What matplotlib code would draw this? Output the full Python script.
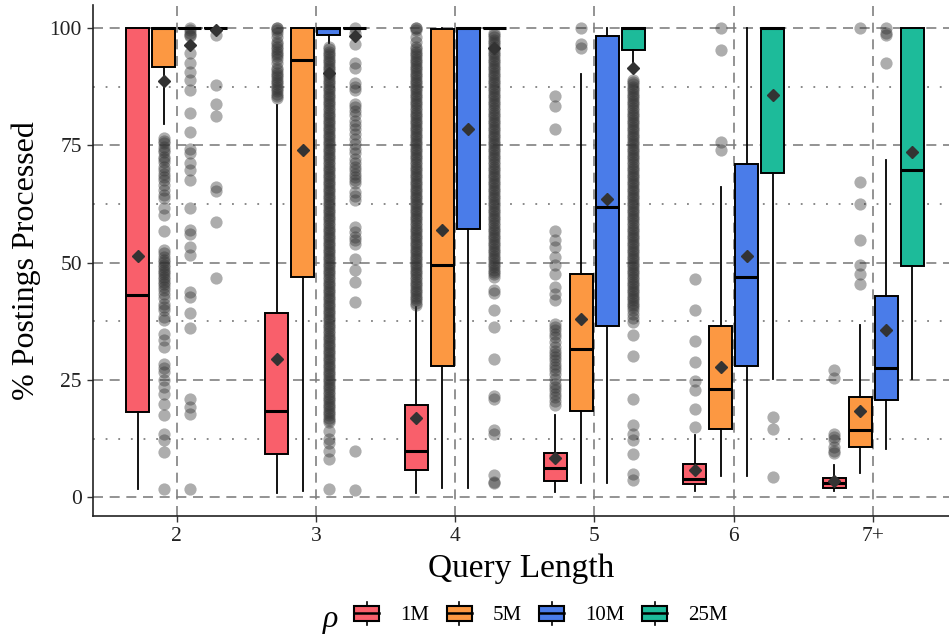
import matplotlib
matplotlib.use("Agg")
import matplotlib.pyplot as plt
from matplotlib.patches import Rectangle
from matplotlib.lines import Line2D
from matplotlib.legend_handler import HandlerBase

plt.rcParams['font.family'] = ['Liberation Serif', 'DejaVu Serif']

query_lengths = ['2', '3', '4', '5', '6', '7+']
rho_labels = ['1M', '5M', '10M', '25M']
rho_colors = ['#F95F6B', '#FC9842', '#4A7CE9', '#1DBB9A']

# per query length: (whisker low, q1, median, q3, whisker high)
box_1m = [(1.7, 18.1, 43.1, 100, 100), (0.9, 9.3, 18.4, 39.3, 83.6),
          (0.9, 5.8, 9.9, 19.8, 40.6), (1.1, 3.6, 6.2, 9.4, 17.5),
          (1.3, 2.9, 4.0, 7.2, 13.2), (1.3, 2.1, 3.0, 4.1, 7.0)]
box_5m = [(79.5, 91.8, 100, 100, 100), (1.3, 47.0, 93.2, 100, 100),
          (2.1, 28.1, 49.6, 99.7, 100), (3.1, 18.5, 31.7, 47.7, 90.3),
          (4.5, 14.6, 23.2, 36.5, 66.2), (5.2, 10.7, 14.4, 21.5, 36.7)]
box_10m = [(100, 100, 100, 100, 100), (96.8, 98.5, 100, 100, 100),
           (2.1, 57.1, 100, 100, 100), (3.1, 36.5, 61.9, 98.2, 100),
           (4.5, 28.1, 47.0, 71.0, 100), (10.4, 20.7, 27.6, 42.9, 71.9)]
box_25m = [(100, 100, 100, 100, 100), (100, 100, 100, 100, 100),
           (100, 100, 100, 100, 100), (92.8, 95.3, 100, 100, 100),
           (25.3, 69.1, 100, 100, 100), (25.3, 49.4, 69.7, 100, 100)]

mean_1m = [51.4, 29.6, 17.0, 8.5, 5.8, 3.6]
mean_5m = [88.7, 74.0, 56.9, 38.1, 27.8, 18.4]
mean_10m = [96.4, 90.5, 78.4, 63.5, 51.4, 35.6]
mean_25m = [99.6, 98.2, 95.7, 91.4, 85.7, 73.5]

# outlying queries
out_1m = [
    [],
    [100, 100, 99.5, 99.0, 98.0, 97.0, 96.5, 96.0, 95.5, 95.0, 94.5, 94.0, 93.5,
     92.5, 91.5, 91.0, 90.5, 90.0, 89.5, 89.0, 88.5, 88.0, 87.5, 87.0, 86.5, 86.0,
     85.5, 85.2],
    [100, 100, 99.5, 98.0, 97.1, 96.0, 95.5, 95.0, 94.5, 94.0, 93.5, 93.0, 92.5,
     92.0, 91.5, 91.0, 90.5, 90.0, 89.5, 89.0, 88.5, 88.0, 87.5, 87.0, 86.5, 86.0,
     85.5, 85.0, 84.5, 84.0, 83.5, 83.0, 82.5, 82.0, 81.5, 81.0, 80.5, 80.0, 79.5,
     79.0, 78.5, 78.0, 77.5, 77.0, 76.5, 76.0, 75.5, 75.0, 74.5, 74.0, 73.5, 73.0,
     72.5, 72.0, 71.5, 71.0, 70.5, 70.0, 69.5, 69.0, 68.5, 68.0, 67.5, 67.0, 66.5,
     66.0, 65.5, 65.0, 64.5, 64.0, 63.5, 63.0, 62.5, 62.0, 61.5, 61.0, 60.5, 60.0,
     59.5, 59.0, 58.5, 58.0, 57.5, 57.0, 56.5, 56.0, 55.5, 55.0, 54.5, 54.0, 53.5,
     53.0, 52.5, 52.0, 51.5, 51.0, 50.5, 50.0, 49.5, 49.0, 48.5, 48.0, 47.5, 47.0,
     46.5, 46.0, 45.5, 45.0, 44.5, 44.0, 43.5, 43.0, 42.5, 42.0, 41.5, 41.0],
    [85.5, 83.4, 78.4, 56.8, 54.8, 53.4, 51.2, 49.5, 47.7, 44.8, 43.4, 42.0, 37.0,
     36.3, 35.6, 34.9, 34.2, 33.1, 32.0, 31.3, 30.6, 29.9, 29.2, 28.5, 27.8, 27.1,
     26.4, 25.3, 24.2, 23.5, 22.8, 22.1, 21.4, 20.5, 19.6],
    [46.6, 39.9, 33.3, 28.8, 24.9, 22.8, 18.9, 15.0],
    [27.1, 25.4, 13.6, 12.9, 12.2, 10.7, 10.0, 9.5],
]
out_5m = [
    [76.6, 76.0, 75.5, 74.7, 74.1, 73.5, 72.6, 72.0, 71.5, 70.4, 69.8, 69.0, 68.3,
     67.6, 66.5, 65.5, 64.5, 63.7, 61.6, 60.1, 56.7, 52.7, 52.0, 51.2, 50.6, 50.2,
     49.6, 49.1, 48.5, 48.0, 47.5, 47.0, 46.5, 46.0, 45.4, 44.8, 44.1, 43.4, 42.5,
     41.3, 40.6, 39.9, 38.5, 37.7, 34.9, 33.5, 32.0, 28.5, 27.6, 26.7, 25.0, 23.5,
     22.1, 20.0, 17.5, 13.6, 12.2, 9.7, 1.7],
    [],
    [],
    [100, 96.7, 95.7],
    [100, 95.3, 75.8, 74.1],
    [100, 67.2, 62.6, 54.9, 49.5, 47.5, 45.4],
]
out_10m = [
    [100, 99.5, 99.0, 98.5, 98.2, 94.6, 92.5, 90.7, 88.9, 86.8, 81.8, 77.9, 74.3,
     73.3, 71.2, 69.7, 67.6, 61.6, 56.9, 56.2, 53.4, 51.6, 43.8, 42.7, 39.2, 36.0,
     21.0, 19.3, 17.8, 1.7],
    [96.0, 95.5, 95.0, 94.5, 94.0, 93.5, 93.0, 92.5, 92.0, 91.5, 91.0, 90.5, 90.0,
     89.5, 89.0, 88.5, 88.0, 87.5, 87.0, 86.5, 86.0, 85.5, 85.0, 84.5, 84.0, 83.5,
     83.0, 82.5, 82.0, 81.5, 81.0, 80.5, 80.0, 79.5, 79.0, 78.5, 78.0, 77.5, 77.0,
     76.5, 76.0, 75.5, 75.0, 74.5, 74.0, 73.5, 73.0, 72.5, 72.0, 71.5, 71.0, 70.5,
     70.0, 69.5, 69.0, 68.5, 68.0, 67.5, 67.0, 66.5, 66.0, 65.5, 65.0, 64.5, 64.0,
     63.5, 63.0, 62.5, 62.0, 61.5, 61.0, 60.5, 60.0, 59.5, 59.0, 58.5, 58.0, 57.5,
     57.0, 56.5, 56.0, 55.5, 55.0, 54.5, 54.0, 53.5, 53.0, 52.5, 52.0, 51.5, 51.0,
     50.5, 50.0, 49.5, 49.0, 48.5, 48.0, 47.5, 47.0, 46.5, 46.0, 45.5, 45.0, 44.5,
     44.0, 43.5, 43.0, 42.5, 42.0, 41.5, 41.0, 40.5, 40.0, 39.5, 39.0, 38.5, 38.0,
     37.5, 37.0, 36.5, 36.0, 35.5, 35.0, 34.5, 34.0, 33.5, 33.0, 32.5, 32.0, 31.5,
     31.0, 30.5, 30.0, 29.5, 29.0, 28.5, 28.0, 27.5, 27.0, 26.5, 26.0, 25.5, 25.0,
     24.5, 24.0, 23.5, 23.0, 22.5, 22.0, 21.5, 21.0, 20.5, 20.0, 19.5, 19.0, 18.5,
     18.0, 17.5, 17.0, 16.5, 16.0, 14.2, 12.5, 11.5, 10.0, 8.2, 1.7],
    [],
    [],
    [],
    [100, 99.0, 98.5, 92.6],
]
out_25m = [
    [98.5, 87.8, 83.9, 81.2, 66.2, 65.3, 58.7, 46.8],
    [100, 99.0, 96.7, 92.5, 91.4, 88.2, 87.5, 86.8, 83.9, 83.2, 82.3, 81.4, 80.3,
     79.3, 78.4, 77.5, 76.4, 75.4, 74.3, 73.3, 72.2, 71.2, 70.4, 69.7, 69.0, 68.3,
     67.6, 66.9, 65.1, 64.2, 63.3, 57.6, 56.5, 55.5, 54.8, 54.1, 50.9, 48.4, 45.9,
     41.6, 10.0, 1.5],
    [99.0, 98.5, 98.0, 97.5, 97.0, 96.5, 96.0, 95.5, 95.0, 94.5, 94.0, 93.5, 93.0,
     92.5, 92.0, 91.5, 91.0, 90.5, 90.0, 89.5, 89.0, 88.5, 88.0, 87.5, 87.0, 86.5,
     86.0, 85.5, 85.0, 84.5, 84.0, 83.5, 83.0, 82.5, 82.0, 81.5, 81.0, 80.5, 80.0,
     79.5, 79.0, 78.5, 78.0, 77.5, 77.0, 76.5, 76.0, 75.5, 75.0, 74.5, 74.0, 73.5,
     73.0, 72.5, 72.0, 71.5, 71.0, 70.5, 70.0, 69.5, 69.0, 68.5, 68.0, 67.5, 67.0,
     66.5, 66.0, 65.5, 65.0, 64.5, 64.0, 63.5, 63.0, 62.5, 62.0, 61.5, 61.0, 60.5,
     60.0, 59.5, 59.0, 58.5, 58.0, 57.5, 57.0, 56.5, 56.0, 55.5, 55.0, 54.5, 54.0,
     53.5, 53.0, 52.5, 52.0, 51.5, 51.0, 50.5, 50.0, 49.5, 49.0, 48.5, 48.0, 47.5,
     47.0, 44.1, 43.5, 39.9, 36.3, 29.4, 21.7, 21.0, 14.3, 13.6, 4.7, 3.3, 3.0],
    [89.0, 88.5, 88.0, 87.5, 87.0, 86.5, 86.0, 85.5, 85.0, 84.5, 84.0, 83.5, 83.0,
     82.5, 82.0, 81.5, 81.0, 80.5, 80.0, 79.5, 79.0, 78.5, 78.0, 77.5, 77.0, 76.5,
     76.0, 75.5, 75.0, 74.5, 74.0, 73.5, 73.0, 72.5, 72.0, 71.5, 71.0, 70.5, 70.0,
     69.5, 69.0, 68.5, 68.0, 67.5, 67.0, 66.5, 66.0, 65.5, 65.0, 64.5, 64.0, 63.5,
     63.0, 62.5, 62.0, 61.5, 61.0, 60.5, 60.0, 59.5, 59.0, 58.5, 58.0, 57.5, 57.0,
     56.5, 56.0, 55.5, 55.0, 54.5, 54.0, 53.5, 53.0, 52.5, 52.0, 51.5, 51.0, 50.5,
     50.0, 49.5, 49.0, 48.5, 48.0, 47.5, 47.0, 46.5, 46.0, 45.5, 45.0, 44.5, 44.0,
     43.5, 43.0, 42.5, 42.0, 41.5, 41.0, 40.5, 40.0, 39.0, 38.2, 37.4, 34.7, 30.1,
     21.0, 15.4, 13.5, 12.2, 9.3, 5.0, 3.7],
    [17.1, 14.6, 4.3],
    [],
]

series = [
    (box_1m, mean_1m, out_1m),
    (box_5m, mean_5m, out_5m),
    (box_10m, mean_10m, out_10m),
    (box_25m, mean_25m, out_25m),
]
offsets = [-0.28, -0.0933, 0.0933, 0.28]
box_width = 0.165


class BoxKey(HandlerBase):
    """ggplot-like boxplot legend key."""
    def create_artists(self, legend, orig_handle, xdescent, ydescent,
                       width, height, fontsize, trans):
        x0, y0 = -xdescent, -ydescent
        cx = x0 + width / 2
        whisk = Line2D([cx, cx], [y0 - 0.05 * height, y0 + 1.05 * height],
                       color='black', lw=1.2, transform=trans)
        box = Rectangle((x0, y0 + 0.14 * height), width, 0.72 * height,
                        facecolor=orig_handle.get_facecolor(), edgecolor='black',
                        lw=1.5, transform=trans)
        med = Line2D([x0, x0 + width], [y0 + height / 2] * 2, color='black',
                     lw=1.8, transform=trans)
        return [whisk, box, med]


fig = plt.figure(figsize=(9.49, 6.37), dpi=100)
ax = fig.add_axes([93 / 949, 121 / 637, 856 / 949, 511.2 / 637])

for k, (boxes, means, fliers) in enumerate(series):
    stats = []
    for i, (lo, q1, med, q3, hi) in enumerate(boxes):
        stats.append(dict(whislo=lo, q1=q1, med=med, q3=q3, whishi=hi,
                          mean=means[i], fliers=fliers[i]))
    positions = [i + 1 + offsets[k] for i in range(len(query_lengths))]
    ax.bxp(stats, positions=positions, widths=box_width, patch_artist=True,
           showmeans=True, showcaps=False, showfliers=True, manage_ticks=False,
           boxprops=dict(facecolor=rho_colors[k], edgecolor='black', linewidth=1.4),
           whiskerprops=dict(color='black', linewidth=1.3),
           medianprops=dict(color='black', linewidth=2.2),
           meanprops=dict(marker='D', markerfacecolor='#333333',
                          markeredgecolor='#333333', markersize=6.5),
           flierprops=dict(marker='o', markerfacecolor='#333333',
                           markeredgecolor='none', markersize=8.8, alpha=0.4))

ax.set_xlim(0.4, 0.4 + 856 / 139.3)
ax.set_ylim(-3.95, 104.95)
ax.set_xticks(range(1, len(query_lengths) + 1))
ax.set_xticklabels(query_lengths)
ax.set_yticks([0, 25, 50, 75, 100])
ax.set_yticks([12.5, 37.5, 62.5, 87.5], minor=True)

ax.set_axisbelow(True)
ax.grid(which='major', axis='both', color='#808080', linewidth=1.2,
        linestyle=(0, (6, 4)))
ax.grid(which='minor', axis='y', color='#808080', linewidth=1.3,
        linestyle=(0, (1, 6)))

for side in ['top', 'right']:
    ax.spines[side].set_visible(False)
for side in ['left', 'bottom']:
    ax.spines[side].set_color('#222222')
    ax.spines[side].set_linewidth(1.2)
ax.tick_params(which='major', length=4, width=1.0, color='#333333',
               labelsize=15.5, labelcolor='#222222', pad=4)
ax.tick_params(which='minor', length=0)

ax.set_xlabel('Query Length', fontsize=24, labelpad=5)
ax.set_ylabel('% Postings Processed', fontsize=23, labelpad=6)

handles = [Rectangle((0, 0), 1, 1, facecolor=c) for c in rho_colors]
fig.legend(handles, rho_labels, handler_map={Rectangle: BoxKey()},
           loc='center left', bbox_to_anchor=(354 / 949, 0.036), ncol=4,
           frameon=False, fontsize=15, handlelength=1.2, handleheight=1.2,
           handletextpad=1.0, columnspacing=0.85, borderpad=0, borderaxespad=0)
fig.text(330 / 949, 0.028, 'ρ', fontsize=23, style='italic', ha='center',
         va='center')

fig.savefig('out.png', dpi=100)
